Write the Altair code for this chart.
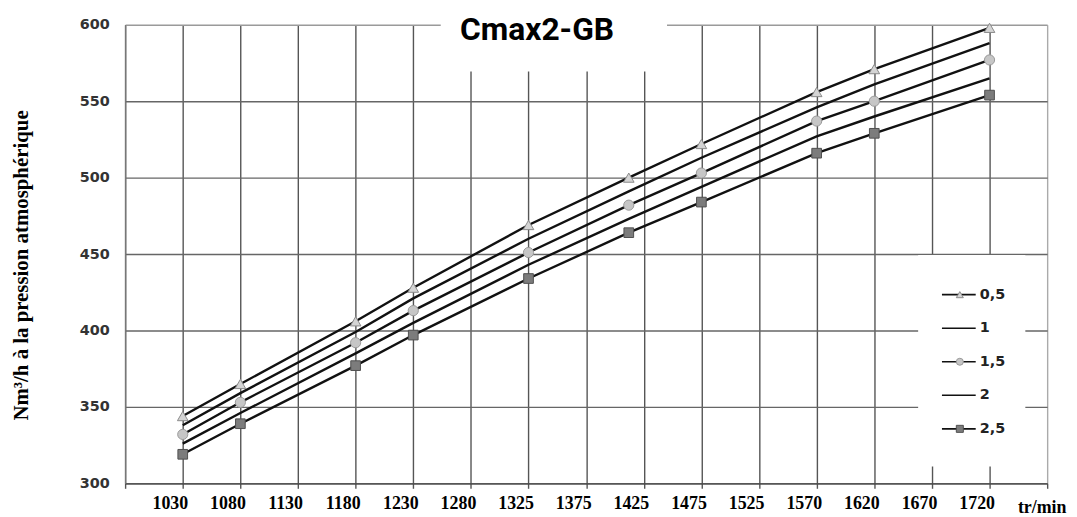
import altair as alt
import pandas as pd

# ---- data ----
rpm_ticks = [1030, 1080, 1130, 1180, 1230, 1280, 1325, 1375, 1425,
             1475, 1525, 1570, 1620, 1670, 1720]
speeds = [1030, 1080, 1180, 1230, 1325, 1412, 1475, 1570, 1620, 1720]
series = ["0,5", "1", "1,5", "2", "2,5"]
v05 = [344, 365, 406, 428, 469, 500, 522, 556, 571, 598]
v1 = [338, 359, 399, 421, 460, 491, 513, 546, 561, 588]
v15 = [332, 353, 392, 413, 451, 482, 503, 537, 550, 577]
v2 = [326, 346, 385, 405, 443, 473, 494, 527, 540, 565]
v25 = [319, 339, 377, 397, 434, 464, 484, 516, 529, 554]
y_ticks = [300, 350, 400, 450, 500, 550, 600]
edge_lo, edge_hi = 980, 1770

marked = ["0,5", "1,5", "2,5"]
shapes = ["triangle-up", "circle", "square"]
fills = ["#d4d4d4", "#c6c6c6", "#7c7c7c"]
strokes = ["#8a8a8a", "#999999", "#505050"]

rows = []
for name, vals in zip(series, [v05, v1, v15, v2, v25]):
    for s, v in zip(speeds, vals):
        rows.append({"series": name, "speed": s, "value": v})
df = pd.DataFrame(rows)

W, H = 929, 462
x_domain = [edge_lo] + rpm_ticks + [edge_hi]
x_range = [W * i / (len(x_domain) - 1) for i in range(len(x_domain))]

xs = alt.Scale(type="linear", domain=x_domain, range=x_range, nice=False)
ys = alt.Scale(domain=[300, 600], nice=False, zero=False)

xaxis = alt.Axis(
    values=x_domain,
    labelExpr=f"datum.value == {edge_lo} || datum.value == {edge_hi} ? '' : datum.label",
    format="d",
    grid=True,
    gridColor=alt.condition(f"datum.value == {edge_hi}", alt.value("#aaaaaa"),
                            alt.value("#555555")),
    gridWidth=1.4,
    domainColor="#444444", domainWidth=1.4,
    tickColor="#555555", tickSize=5, tickWidth=1.4,
    labelFont="Liberation Serif", labelFontWeight="bold", labelFontSize=18,
    labelColor="#000000", labelPadding=6, labelOffset=-13,
    title="tr/min", titleFont="Liberation Serif", titleFontWeight="bold",
    titleFontSize=18, titleColor="#000000",
    titleX=948, titleY=29, titleAlign="right", titleBaseline="alphabetic",
)
yaxis = alt.Axis(
    values=y_ticks, grid=True,
    gridColor=alt.condition("datum.value == 600", alt.value("#9a9a9a"),
                            alt.value("#666666")),
    gridWidth=1.4,
    domainColor="#777777", domainWidth=1.4, ticks=False,
    labelFont="DejaVu Sans", labelFontWeight="bold", labelFontSize=14.5,
    labelColor="#333333", labelPadding=16,
    title="Nm³/h à la pression atmosphérique",
    titleFont="Liberation Serif", titleFontWeight="bold", titleFontSize=21,
    titleColor="#000000", titleAngle=270, titleX=-98, titleY=242,
    titleAlign="center", titleBaseline="alphabetic",
)

one = pd.DataFrame({"a": [0]})

title_box = alt.Chart(one).mark_rect(color="white").encode(
    x=alt.value(318), x2=alt.value(546), y=alt.value(-15), y2=alt.value(47))
legend_box = alt.Chart(one).mark_rect(color="white").encode(
    x=alt.value(799), x2=alt.value(907), y=alt.value(232), y2=alt.value(445))

lines = alt.Chart(df).mark_line(color="#111111", strokeWidth=2.4).encode(
    x=alt.X("speed:Q", scale=xs, axis=xaxis),
    y=alt.Y("value:Q", scale=ys, axis=yaxis),
    detail="series:N",
)

shape_scale = alt.Scale(domain=marked, range=shapes)
fill_scale = alt.Scale(domain=marked, range=fills)
stroke_scale = alt.Scale(domain=marked, range=strokes)
size_scale = alt.Scale(domain=marked, range=[115, 95, 115])

points = alt.Chart(df).transform_filter(
    alt.FieldOneOfPredicate(field="series", oneOf=marked)
).mark_point(filled=True, opacity=1, strokeWidth=1).encode(
    x=alt.X("speed:Q", scale=xs),
    y=alt.Y("value:Q", scale=ys),
    shape=alt.Shape("series:N", scale=shape_scale, legend=None),
    fill=alt.Fill("series:N", scale=fill_scale, legend=None),
    stroke=alt.Stroke("series:N", scale=stroke_scale, legend=None),
    size=alt.Size("series:N", scale=size_scale, legend=None),
)

title_text = alt.Chart(one).mark_text(
    text="Cmax2-GB", font="Roboto", fontWeight="bold", fontSize=32,
    align="center", baseline="alphabetic", color="#000000",
).encode(x=alt.value(415), y=alt.value(15))

main = alt.layer(title_box, legend_box, lines, points, title_text)

leg_df = pd.DataFrame({"series": series})
ly = alt.Scale(domain=series, range=[255, 424], padding=0)

leg_lines = alt.Chart(leg_df).mark_rule(color="#111111", strokeWidth=1.6).encode(
    x=alt.value(823), x2=alt.value(857),
    y=alt.Y("series:N", scale=ly, axis=None),
)
leg_points = alt.Chart(leg_df).transform_filter(
    alt.FieldOneOfPredicate(field="series", oneOf=marked)
).mark_point(filled=True, size=50, opacity=1, strokeWidth=1).encode(
    x=alt.value(841),
    y=alt.Y("series:N", scale=ly, axis=None),
    shape=alt.Shape("series:N", scale=shape_scale, legend=None),
    fill=alt.Fill("series:N", scale=fill_scale, legend=None),
    stroke=alt.Stroke("series:N", scale=stroke_scale, legend=None),
)
leg_text = alt.Chart(leg_df).mark_text(
    align="left", baseline="middle", font="DejaVu Sans", fontWeight="bold",
    fontSize=14.5, color="#222222",
).encode(
    x=alt.value(861),
    y=alt.Y("series:N", scale=ly, axis=None),
    text="series:N",
)
legend = alt.layer(leg_lines, leg_points, leg_text)

chart = alt.layer(main, legend).resolve_scale(y="independent").properties(
    width=W, height=H,
    autosize=alt.AutoSizeParams(type="none"),
    padding={"left": 118, "top": 15, "right": 22, "bottom": 32},
    background="white",
).configure_view(stroke=None)

chart.save("out.html", embed_options={"renderer": "svg", "actions": False})
